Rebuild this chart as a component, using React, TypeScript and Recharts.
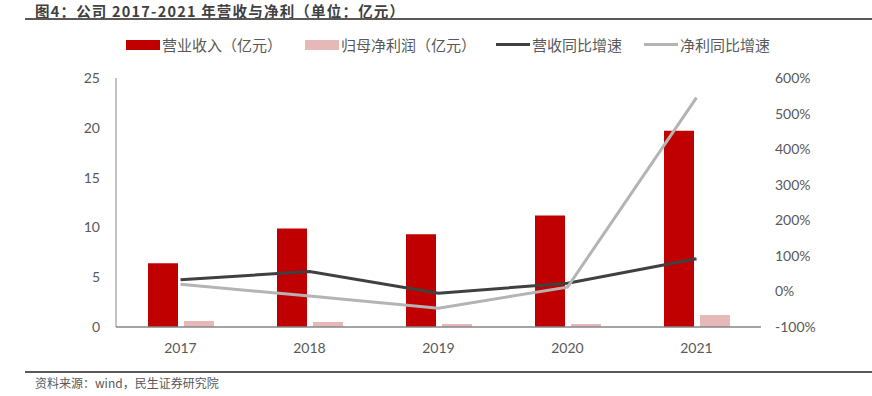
import { Bar, ComposedChart, Line, XAxis, YAxis } from "recharts";

const years = ["2017", "2018", "2019", "2020", "2021"];
const revenue = [6.4, 9.9, 9.3, 11.2, 19.7];
const netProfit = [0.6, 0.5, 0.3, 0.3, 1.2];
const revenueGrowth = [33, 56, -5, 23, 92];
const profitGrowth = [20, -13, -47, 12, 545];
const leftTicks = [0, 5, 10, 15, 20, 25];
const rightTicks = [-100, 0, 100, 200, 300, 400, 500, 600];

const data = years.map((year, i) => ({
  year,
  revenue: revenue[i],
  netProfit: netProfit[i],
  revenueGrowth: revenueGrowth[i],
  profitGrowth: profitGrowth[i],
}));

const font = "Lato, 'Noto Sans CJK SC', sans-serif";
const cjk = "'Noto Sans CJK SC', sans-serif";
const tick = { fill: "#595959", fontSize: 14, fontFamily: font };

const legendItems = [
  { label: "营业收入（亿元）", color: "#C00000", type: "bar", x: 126 },
  { label: "归母净利润（亿元）", color: "#E6B9B8", type: "bar", x: 305 },
  { label: "营收同比增速", color: "#404040", type: "line", x: 496 },
  { label: "净利同比增速", color: "#B4B4B4", type: "line", x: 644 },
];

export default function App() {
  return (
    <div style={{ position: "absolute", left: 0, top: 0, width: 872, height: 396, background: "#fff", fontFamily: cjk }}>
      <div
        style={{
          position: "absolute",
          left: 35,
          top: 0,
          fontSize: 14.5,
          lineHeight: "21px",
          letterSpacing: 1.2,
          fontWeight: 700,
          color: "#404040",
          whiteSpace: "nowrap",
        }}
      >
        图4：公司 2017-2021 年营收与净利（单位：亿元）
      </div>
      <div style={{ position: "absolute", left: 25, right: 0, top: 18, height: 2, background: "#595959" }} />
      {legendItems.map((item) => (
        <div key={item.label} style={{ position: "absolute", left: item.x, top: 34, display: "flex", alignItems: "center", whiteSpace: "nowrap", fontSize: 15, color: "#595959" }}>
          <span
            style={{
              display: "inline-block",
              width: 34,
              height: item.type === "bar" ? 10 : 3,
              background: item.color,
              marginRight: 2,
            }}
          />
          {item.label}
        </div>
      ))}
      <ComposedChart
        width={872}
        height={396}
        data={data}
        margin={{ top: 78, right: 51, bottom: 39, left: 56 }}
        barSize={30}
        barGap={6}
        style={{ position: "absolute", left: 0, top: 0 }}
      >
        <XAxis
          dataKey="year"
          tick={tick}
          tickLine={false}
          axisLine={{ stroke: "#868686", strokeWidth: 1.5 }}
          tickMargin={10}
          height={30}
        />
        <YAxis
          yAxisId="left"
          domain={[0, 25]}
          ticks={leftTicks}
          tick={tick}
          tickLine={false}
          axisLine={{ stroke: "#868686", strokeWidth: 1 }}
          tickMargin={10}
          width={60}
        />
        <YAxis
          yAxisId="right"
          orientation="right"
          domain={[-100, 600]}
          ticks={rightTicks}
          tick={{ ...tick, textAnchor: "start" }}
          tickFormatter={(v) => `${v}%`}
          tickLine={false}
          axisLine={false}
          tickMargin={8}
          width={60}
        />
        <Bar yAxisId="left" dataKey="revenue" fill="#C00000" isAnimationActive={false} />
        <Bar yAxisId="left" dataKey="netProfit" fill="#E6B9B8" isAnimationActive={false} />
        <Line
          yAxisId="right"
          type="linear"
          dataKey="revenueGrowth"
          stroke="#404040"
          strokeWidth={3}
          dot={false}
          isAnimationActive={false}
        />
        <Line
          yAxisId="right"
          type="linear"
          dataKey="profitGrowth"
          stroke="#B4B4B4"
          strokeWidth={3}
          dot={false}
          isAnimationActive={false}
        />
      </ComposedChart>
      <div style={{ position: "absolute", left: 25, right: 0, top: 371, height: 1.5, background: "#595959" }} />
      <div style={{ position: "absolute", left: 35, top: 374, fontSize: 12, color: "#595959", whiteSpace: "nowrap" }}>
        资料来源：wind，民生证券研究院
      </div>
    </div>
  );
}
